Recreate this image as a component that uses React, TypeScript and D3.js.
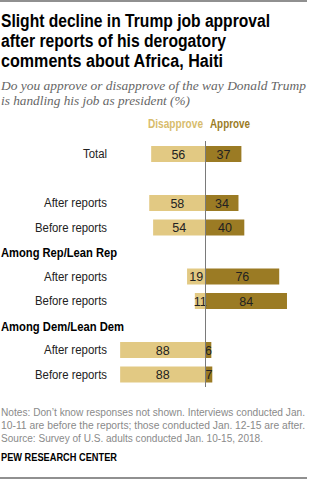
import * as d3 from 'd3';

const titleLines = [
  'Slight decline in Trump job approval',
  'after reports of his derogatory',
  'comments about Africa, Haiti',
];
const subtitleLines = [
  'Do you approve or disapprove of the way Donald Trump',
  'is handling his job as president (%)',
];
const noteLines = [
  'Notes: Don\u2019t know responses not shown. Interviews conducted Jan.',
  '10-11 are before the reports; those conducted Jan. 12-15 are after.',
  'Source: Survey of U.S. adults conducted Jan. 10-15, 2018.',
];

// every slot on the vertical axis, including the blank one and the group headers
const slots = ['total', 'gap', 'all-after', 'all-before', 'rep-head', 'rep-after', 'rep-before', 'dem-head', 'dem-after', 'dem-before'];
const headerSlots = ['rep-head', 'dem-head'];
const headerLabels = ['Among Rep/Lean Rep', 'Among Dem/Lean Dem'];

const barSlots = ['total', 'all-after', 'all-before', 'rep-after', 'rep-before', 'dem-after', 'dem-before'];
const barLabels = ['Total', 'After reports', 'Before reports', 'After reports', 'Before reports', 'After reports', 'Before reports'];
const disapprove = [56, 58, 54, 19, 11, 88, 88];
const approve = [37, 34, 40, 76, 84, 6, 7];

const W = 309;
const H = 480;
const LIGHT = '#e2c983';
const DARK = '#9b7b24';
const SANS = '"Liberation Sans", Arial, sans-serif';
const SERIF = '"Liberation Serif", "DejaVu Serif", serif';

// the house font is a condensed grotesque, so texts are squeezed to its widths
const titleWidths = [269, 225, 222];
const noteWidths = [304, 304, 262];
const headerWidths = [116, 123];
const labelWidth: Record<string, number> = { Total: 24, 'After reports': 63, 'Before reports': 72 };

export default function App() {
  const zero = 205.5;
  const x = d3.scaleLinear().domain([-100, 100]).range([zero - 97, zero + 97]);
  const y = d3.scalePoint<string>().domain(slots).range([154, 374.5]);
  const barH = 16;

  return (
    <div style={{ position: 'absolute', left: 0, top: 0 }}>
      <svg width={W} height={H} viewBox={`0 0 ${W} ${H}`}>
        <rect width={W} height={H} fill="#fff" />
        <line x1={0} x2={307} y1={1} y2={1} stroke="#222" strokeWidth={1.2} />

        {titleLines.map((t, i) => (
          <text key={t} x={1} y={27 + i * 20} fontFamily={SANS} fontWeight="bold" fontSize={17.5} fill="#000"
            textLength={titleWidths[i]} lengthAdjust="spacingAndGlyphs">
            {t}
          </text>
        ))}
        {subtitleLines.map((t, i) => (
          <text key={t} x={1} y={89.5 + i * 15} fontFamily={SERIF} fontStyle="italic" fontSize={13} fill="#666"
            textLength={i === 0 ? 305 : 189} lengthAdjust="spacingAndGlyphs">
            {t}
          </text>
        ))}

        {/* legend */}
        <text x={148} y={128} fontFamily={SANS} fontWeight="bold" fontSize={12} fill="#d8bc6c"
          textLength={55} lengthAdjust="spacingAndGlyphs">Disapprove</text>
        <text x={210} y={128} fontFamily={SANS} fontWeight="bold" fontSize={12} fill={DARK}
          textLength={40} lengthAdjust="spacingAndGlyphs">Approve</text>

        {headerSlots.map((s, i) => (
          <text key={s} x={1} y={(y(s) ?? 0) + 5} fontFamily={SANS} fontWeight="bold" fontSize={12.5} fill="#000"
            textLength={headerWidths[i]} lengthAdjust="spacingAndGlyphs">
            {headerLabels[i]}
          </text>
        ))}

        {barSlots.map((s, i) => {
          const cy = y(s) ?? 0;
          const xl = x(-disapprove[i]);
          const xr = x(approve[i]);
          const lw = labelWidth[barLabels[i]];
          return (
            <g key={s}>
              <text x={107 - lw} y={cy + 4} fontFamily={SANS} fontSize={12.5} fill="#222"
                textLength={lw} lengthAdjust="spacingAndGlyphs">
                {barLabels[i]}
              </text>
              <rect x={xl} y={cy - barH / 2} width={zero - xl} height={barH} fill={LIGHT} />
              <rect x={zero} y={cy - barH / 2} width={xr - zero} height={barH} fill={DARK} />
              <text x={(xl + zero) / 2} y={cy + 4.5} textAnchor="middle" fontFamily={SANS} fontSize={12.5} fill="#222">
                {disapprove[i]}
              </text>
              <text x={(xr + zero) / 2} y={cy + 4.5} textAnchor="middle" fontFamily={SANS} fontSize={12.5} fill="#222">
                {approve[i]}
              </text>
            </g>
          );
        })}

        <line x1={zero} x2={zero} y1={141} y2={387} stroke="#7a7a7a" strokeWidth={1} />

        {noteLines.map((t, i) => (
          <text key={t} x={1} y={415.5 + i * 13} fontFamily={SANS} fontSize={10} fill="#8a8a8a"
            textLength={noteWidths[i]} lengthAdjust="spacingAndGlyphs">
            {t}
          </text>
        ))}
        <text x={1} y={461} fontFamily={SANS} fontWeight="bold" fontSize={10} fill="#000"
          textLength={116} lengthAdjust="spacingAndGlyphs">
          PEW RESEARCH CENTER
        </text>
        <line x1={0} x2={307} y1={478} y2={478} stroke="#222" strokeWidth={1.2} />
      </svg>
    </div>
  );
}
